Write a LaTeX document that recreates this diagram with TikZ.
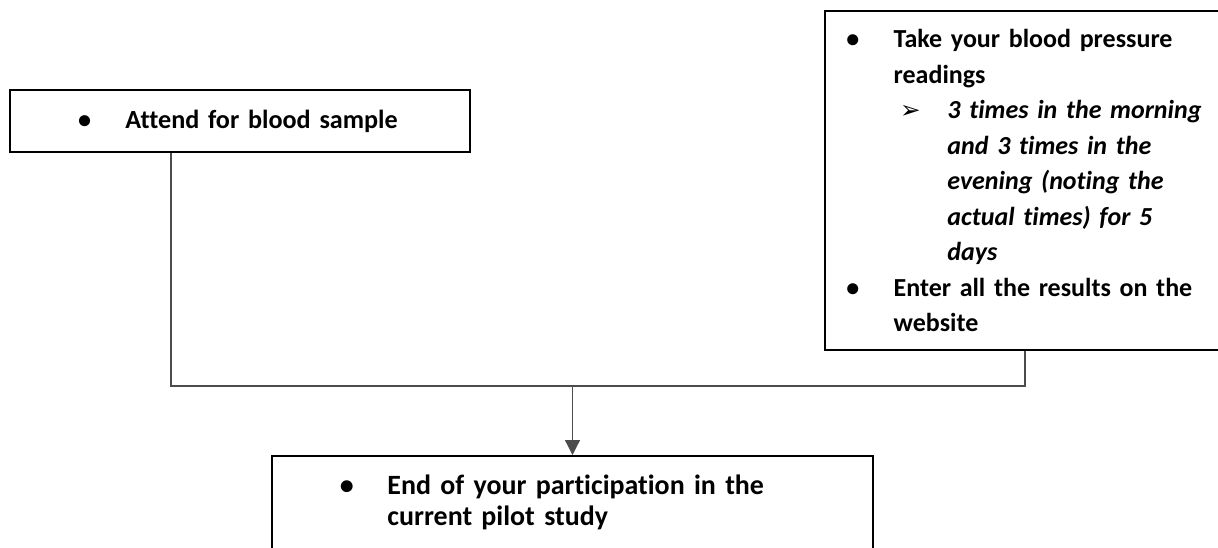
\documentclass[tikz,border=0pt]{standalone}
\usepackage{fontspec}
\setmainfont{Carlito}[Ligatures=NoCommon]
\newfontfamily\dingfont{DejaVu Sans}
\usetikzlibrary{arrows.meta}
\newcommand{\bulitem}{\makebox[31.8pt]{\textbullet}\hspace*{7.3pt}}
\newcommand{\gapitem}{\hspace*{39.1pt}}
\newcommand{\arritem}{\gapitem\makebox[19.2pt]{\fontsize{14}{14}\dingfont ➢}\hspace*{11.4pt}}
\newcommand{\subgap}{\hspace*{69.7pt}}
\tikzset{
  box/.style = {draw=black, line width=1.1pt, rectangle, align=left,
                inner xsep=0pt},
  link/.style = {draw=black!70, line width=0.7pt},
  >={Triangle[length=8.5pt,width=8.5pt]},
}
\begin{document}
\begin{tikzpicture}[x=0.02cm,y=-0.02cm]
\useasboundingbox (0,0) rectangle (1218,548);
\node[box, text width=9.2cm, minimum height=1.24cm,
      font=\fontsize{14.9}{17}\selectfont\bfseries] (attend) at (240,121)
  {\hspace*{26.6pt}\bulitem Attend for blood sample};
\node[box, anchor=north west, text width=8.4cm, inner ysep=0.37cm,
      font=\fontsize{14.8}{20.2}\selectfont\bfseries] (readings) at (824,10)
  {\bulitem Take your blood pressure\\
   \gapitem readings\\
   \arritem\textit{3 times in the morning}\\
   \subgap\textit{and 3 times in the}\\
   \subgap\textit{evening (noting the}\\
   \subgap\textit{actual times) for 5}\\
   \subgap\textit{days}\\
   \bulitem Enter all the results on the\\
   \gapitem website};
\node[box, anchor=north, text width=12.02cm, inner ysep=0.38cm,
      font=\fontsize{15.9}{17.8}\selectfont\bfseries] (endstudy) at (572.5,455)
  {\hspace*{26.6pt}\bulitem End of your participation in the\\
   \hspace*{26.6pt}\gapitem current pilot study};
% joining lines
\coordinate (lfoot) at (171,386);
\coordinate (rfoot) at (1025,386);
\coordinate (merge) at (endstudy.north |- lfoot);
\draw[link] (attend.south -| lfoot) -- (lfoot) -- (rfoot)
            -- (readings.south -| rfoot);
\draw[link,->] (merge) -- (endstudy.north);
\end{tikzpicture}
\end{document}
